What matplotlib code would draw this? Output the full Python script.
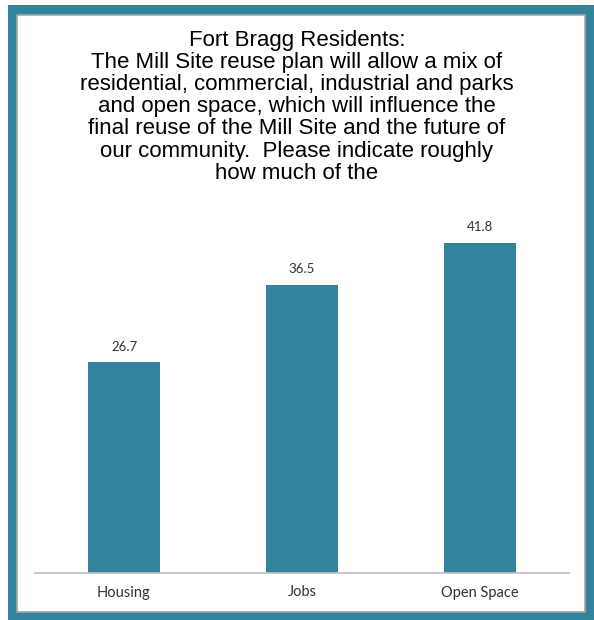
import matplotlib
matplotlib.use("Agg")
import matplotlib.pyplot as plt
from matplotlib.patches import Rectangle

categories = ["Housing", "Jobs", "Open Space"]
values = [26.7, 36.5, 41.8]

title = ("Fort Bragg Residents:\n"
         "The Mill Site reuse plan will allow a mix of\n"
         "residential, commercial, industrial and parks\n"
         "and open space, which will influence the\n"
         "final reuse of the Mill Site and the future of\n"
         "our community.  Please indicate roughly\n"
         "how much of the")

teal = "#31849B"
W, H = 594, 620

fig = plt.figure(figsize=(W / 100, H / 100), dpi=100)
fig.patch.set_facecolor("white")

# outer teal frame and inner white panel
fig.patches.append(Rectangle((8 / W, 0), (W - 8) / W, (H - 5) / H,
                             transform=fig.transFigure, facecolor=teal,
                             edgecolor="none", zorder=0))
fig.patches.append(Rectangle((17 / W, (H - 612) / H), (585 - 17) / W, (612 - 15) / H,
                             transform=fig.transFigure, facecolor="white",
                             edgecolor="#A6A6A6", linewidth=1.2, zorder=1))

fig.text(0.5, 1 - 30 / H, title, ha="center", va="top", fontsize=16,
         family="Liberation Sans", color="black", linespacing=1.07, zorder=3)

ax = fig.add_axes([35 / W, (H - 573) / H, (569 - 35) / W, (573 - 220) / H])
ax.set_zorder(3)
ax.set_facecolor("none")
x = range(len(categories))
bars = ax.bar(x, values, width=0.4, color=teal, zorder=2)
for b, v in zip(bars, values):
    ax.text(b.get_x() + b.get_width() / 2, v + 1.2, f"{v:.1f}", ha="center",
            va="bottom", fontsize=9.5, family="Lato", color="#333333")

ax.set_xlim(-0.5, 2.5)
ax.set_ylim(0, 44.7)
ax.set_xticks(list(x))
ax.set_xticklabels(categories, fontsize=10.5, family="Lato", color="#333333")
ax.tick_params(axis="x", length=0, pad=9)
ax.set_yticks([])
for s in ["top", "right", "left"]:
    ax.spines[s].set_visible(False)
ax.spines["bottom"].set_color("#BFBFBF")
ax.spines["bottom"].set_linewidth(1.2)

fig.savefig("out.png", dpi=100)
